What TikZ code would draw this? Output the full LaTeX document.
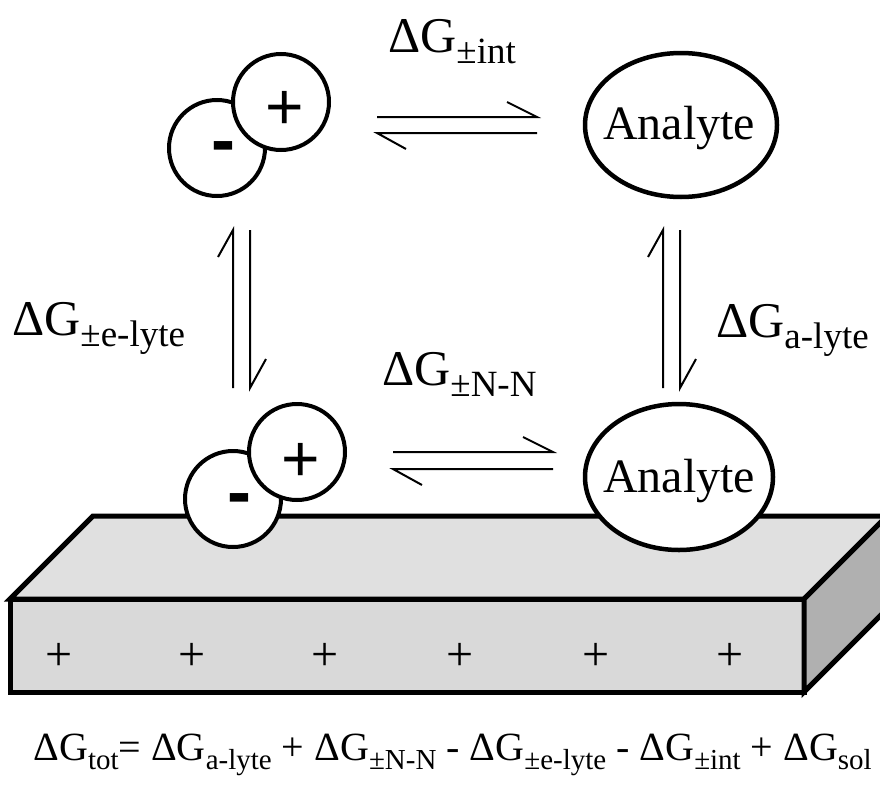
\documentclass[tikz,border=0pt]{standalone}
\usepackage{fontspec}
\usetikzlibrary{shapes.geometric}
\setmainfont{Liberation Serif}
\newfontfamily\ionfont{Liberation Sans}
\newcommand\dGlab[1]{{\fontsize{50}{54}\selectfont ΔG}{\fontsize{37}{40}\selectfont\raisebox{-11pt}{#1}}}
\newcommand\dGeq[1]{ΔG{\fontsize{29}{32}\selectfont\raisebox{-9pt}{#1}}}
\begin{document}
\begin{tikzpicture}[x=1pt,y=-1pt,
  ion/.style={circle,draw,line width=4pt,fill=white,minimum size=96pt,inner sep=0pt},
  analyte/.style={ellipse,draw,line width=4.5pt,fill=white,inner sep=0pt},
  harp/.style={line width=2pt,line cap=butt,line join=miter},
  boxline/.style={line width=5pt,line join=miter},
  lab/.style={anchor=base west,inner sep=0pt},
  plusglyph/.style={font=\ionfont\fontsize{66}{70}\selectfont,inner sep=0pt},
  minusglyph/.style={font=\ionfont\bfseries\fontsize{72}{76}\selectfont,inner sep=0pt},
  boxplus/.style={font=\fontsize{48}{50}\selectfont,inner sep=0pt}]
\useasboundingbox (0,0) rectangle (880,790);
\clip (0,0) rectangle (880,790);
% box
\filldraw[boxline,fill=black!12] (10,599) -- (93,516) -- (900,516) -- (804,599) -- cycle;
\filldraw[boxline,fill=black!15] (10,599) rectangle (804,692);
\filldraw[boxline,fill=black!31] (804,599) -- (887,516) -- (887,609) -- (804,692) -- cycle;
\foreach \px/\nm in {59/p1,192/p2,325/p3,460/p4,596/p5,730/p6}
  \node[boxplus] (\nm) at (\px,657) {+};
% top ions
\node[ion] (minA) at (217,148) {};
\node[minusglyph] at (223,153) {-};
\node[ion] (plusA) at (281,102) {};
\node[plusglyph] at (285,110) {+};
% bottom ions
\node[ion] (minB) at (233,499) {};
\node[minusglyph] at (239,505) {-};
\node[ion] (plusB) at (297,452) {};
\node[plusglyph] at (301,462) {+};
% analytes
\node[analyte,minimum width=192pt,minimum height=144pt] (anA) at (681,125) {};
\node[anchor=base,font=\fontsize{48}{50}\selectfont,inner sep=0pt] at (679,139) {Analyte};
\node[analyte,minimum width=188pt,minimum height=146pt] (anB) at (679,477) {};
\node[anchor=base,font=\fontsize{48}{50}\selectfont,inner sep=0pt] at (679,492) {Analyte};
% harpoons top
\coordinate (t1) at (377,117); \coordinate (t2) at (537,117); \coordinate (t2b) at (507,102);
\coordinate (t3) at (377,133); \coordinate (t4) at (537,133); \coordinate (t3b) at (406,149);
\draw[harp] (t1) -- (t2) -- (t2b);
\draw[harp] (t3b) -- (t3) -- (t4);
% harpoons middle
\coordinate (m1) at (393,452); \coordinate (m2) at (553,452); \coordinate (m2b) at (523,437);
\coordinate (m3) at (393,469); \coordinate (m4) at (553,469); \coordinate (m3b) at (422,485);
\draw[harp] (m1) -- (m2) -- (m2b);
\draw[harp] (m3b) -- (m3) -- (m4);
% vertical left
\coordinate (l1) at (233,388); \coordinate (l2) at (233,230); \coordinate (l2b) at (218,257);
\coordinate (l3) at (250,230); \coordinate (l4) at (250,388); \coordinate (l4b) at (266,359);
\draw[harp] (l1) -- (l2) -- (l2b);
\draw[harp] (l3) -- (l4) -- (l4b);
% vertical right
\coordinate (r1) at (663,388); \coordinate (r2) at (663,230); \coordinate (r2b) at (648,257);
\coordinate (r3) at (680,230); \coordinate (r4) at (680,388); \coordinate (r4b) at (696,359);
\draw[harp] (r1) -- (r2) -- (r2b);
\draw[harp] (r3) -- (r4) -- (r4b);
% labels
\node[lab] (Lint) at (388,52) {\dGlab{±int}};
\node[lab] (Lel) at (12,335) {\dGlab{±e-lyte}};
\node[lab] (Lal) at (716,337) {\dGlab{a-lyte}};
\node[lab] (Lnn) at (382,385) {\dGlab{±N-N}};
\node[anchor=base east,inner sep=0pt,font=\fontsize{40}{44}\selectfont] (Leq) at (872,760) {\dGeq{tot}= \dGeq{a-lyte} + \dGeq{±N-N} - \dGeq{±e-lyte} - \dGeq{±int} + \dGeq{sol}};
\end{tikzpicture}
\end{document}
